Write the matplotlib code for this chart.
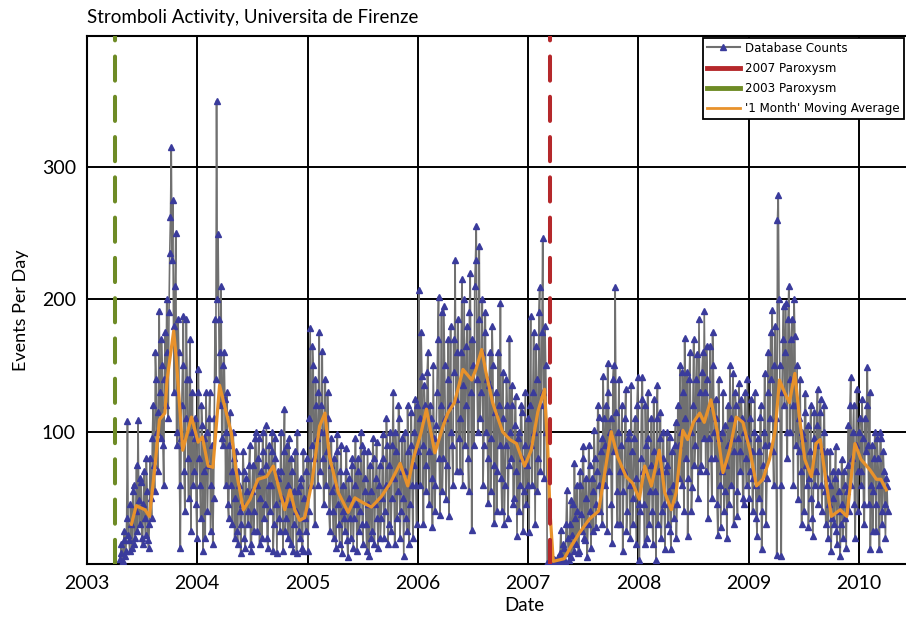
import matplotlib
matplotlib.use("Agg")
import matplotlib.pyplot as plt
from matplotlib.lines import Line2D
import pandas as pd
import datetime as dt

# ---- data ----
# counts every 5 days (a) and the samples that fall between them (b)
start_date = "2003-04-20"
a_2003 = [4, 15, 2, 25, 10, 108, 18, 45, 12, 60,
          20, 75, 109, 30, 62, 15, 70, 22, 55, 12,
          80, 35, 120, 55, 140, 70, 191, 95, 150, 60,
          175, 200, 110, 235, 315, 275, 130, 250, 90, 160,
          12, 120, 187, 40, 185, 80, 140, 25, 130, 70,
          110, 20]
b_2003 = [8, 1, 18, 6, 35, 22, 10, 30, 55, 15,
          40, 25, 48, 65, 20, 45, 35, 80, 18, 30,
          50, 95, 75, 160, 100, 115, 130, 170, 90, 140,
          120, 160, 190, 262, 230, 180, 210, 100, 185, 60,
          95, 150, 70, 110, 140, 50, 170, 100, 60, 95,
          45, 130]
a_2004 = [147, 60, 120, 10, 95, 130, 40, 110, 25, 90,
          50, 185, 350, 249, 120, 210, 90, 160, 60, 130,
          35, 115, 70, 100, 20, 85, 15, 60, 8, 45,
          70, 12, 55, 30, 90, 10, 75, 40, 100, 25,
          95, 50, 20, 85, 45, 105, 12, 90, 60, 100,
          30, 80, 8, 65, 25, 70, 10, 117, 35, 60,
          95, 15, 70, 30, 85, 8, 55, 20, 65, 10,
          50, 25, 80]
b_2004 = [80, 35, 105, 70, 20, 100, 75, 130, 60, 15,
          110, 140, 200, 185, 160, 95, 150, 125, 100, 45,
          90, 60, 30, 80, 50, 25, 70, 40, 30, 85,
          20, 65, 40, 75, 15, 55, 25, 95, 60, 80,
          15, 70, 100, 35, 75, 20, 60, 40, 85, 10,
          95, 45, 70, 35, 100, 50, 85, 25, 90, 20,
          45, 80, 10, 55, 40, 100, 25, 60, 12, 85,
          35, 70, 10]
a_2005 = [40, 178, 90, 150, 30, 120, 60, 175, 100, 161,
          45, 140, 85, 110, 25, 95, 40, 80, 12, 98,
          30, 70, 8, 60, 25, 88, 5, 50, 20, 75,
          35, 95, 10, 70, 40, 90, 15, 65, 30, 85,
          6, 55, 25, 80, 45, 92, 12, 75, 35, 98,
          20, 60, 90, 30, 100, 50, 130, 15, 85, 55,
          110, 40, 95, 6, 70, 25, 85, 45, 115, 20,
          100, 60, 120]
b_2005 = [110, 60, 165, 80, 140, 95, 130, 70, 120, 80,
          100, 60, 130, 40, 75, 55, 20, 60, 85, 45,
          15, 90, 40, 35, 70, 18, 65, 35, 80, 12,
          60, 45, 80, 25, 100, 30, 85, 55, 10, 45,
          75, 20, 95, 15, 65, 35, 60, 20, 50, 80,
          40, 110, 15, 75, 25, 90, 65, 100, 35, 120,
          20, 70, 50, 100, 35, 120, 15, 90, 60, 75,
          125, 30, 85]
a_2006 = [207, 60, 142, 30, 120, 75, 160, 45, 110, 28,
          95, 60, 130, 202, 37, 190, 80, 150, 49, 140,
          36, 180, 90, 170, 230, 70, 185, 110, 160, 60,
          200, 120, 180, 55, 220, 26, 150, 210, 255, 100,
          240, 130, 200, 90, 190, 140, 46, 160, 95, 150,
          31, 130, 70, 120, 197, 40, 110, 60, 140, 35,
          171, 80, 120, 50, 127, 21, 100, 60, 115, 25,
          90, 45, 110]
b_2006 = [110, 175, 90, 135, 55, 145, 85, 120, 65, 150,
          40, 105, 170, 80, 120, 55, 195, 110, 75, 170,
          120, 100, 60, 145, 125, 160, 95, 70, 215, 135,
          90, 165, 80, 190, 130, 170, 90, 230, 140, 185,
          110, 160, 60, 175, 100, 80, 135, 55, 180, 75,
          115, 40, 160, 90, 65, 145, 30, 90, 120, 75,
          100, 135, 45, 105, 70, 95, 40, 120, 80, 55,
          130, 75, 60]
a_2007 = [24, 187, 60, 175, 30, 140, 80, 209, 120, 246,
          65, 150, 1, 0, 0, 2, 0, 3, 0, 5,
          1, 26, 4, 12, 2, 56, 8, 30, 5, 45,
          76, 15, 40, 10, 60, 25, 89, 18, 50, 30,
          75, 12, 55, 101, 28, 70, 111, 40, 95, 142,
          60, 120, 152, 70, 110, 16, 150, 209, 55, 100,
          30, 90, 10, 70, 132, 40, 100, 20, 85, 50,
          110, 15, 141]
b_2007 = [120, 90, 130, 100, 165, 55, 190, 70, 175, 130,
          180, 100, 0, 1, 0, 0, 4, 0, 2, 0,
          8, 2, 15, 0, 30, 20, 3, 48, 22, 10,
          35, 60, 8, 70, 38, 80, 20, 65, 5, 90,
          40, 65, 25, 80, 45, 120, 60, 85, 30, 110,
          90, 25, 130, 100, 45, 140, 85, 115, 30, 140,
          70, 120, 55, 110, 25, 95, 60, 135, 30, 95,
          65, 120, 45]
a_2008 = [3, 80, 141, 45, 120, 20, 95, 55, 110, 15,
          85, 3, 135, 70, 115, 40, 100, 11, 75, 30,
          96, 11, 60, 35, 107, 45, 90, 150, 60, 130,
          171, 80, 21, 140, 100, 58, 170, 90, 159, 50,
          130, 75, 160, 191, 70, 140, 95, 165, 50, 150,
          80, 110, 22, 95, 28, 70, 40, 105, 20, 90,
          150, 60, 144, 85, 120, 36, 137, 70, 110, 45,
          130, 60, 95]
b_2008 = [40, 125, 70, 15, 90, 130, 30, 75, 40, 125,
          55, 110, 30, 95, 20, 80, 45, 70, 100, 55,
          25, 85, 45, 90, 20, 120, 65, 100, 145, 40,
          110, 145, 65, 160, 40, 120, 75, 140, 110, 185,
          70, 145, 95, 130, 165, 35, 120, 80, 175, 100,
          125, 45, 140, 60, 100, 130, 55, 75, 120, 45,
          110, 95, 30, 130, 55, 95, 85, 125, 50, 100,
          80, 140, 50]
a_2009 = [70, 125, 40, 100, 60, 21, 85, 111, 11, 75,
          144, 30, 130, 90, 175, 192, 60, 180, 7, 279,
          150, 6, 170, 120, 197, 80, 210, 100, 185, 60,
          172, 120, 49, 110, 70, 100, 40, 129, 60, 28,
          85, 50, 21, 115, 70, 132, 90, 125, 40, 100,
          55, 85, 20, 60, 10, 70, 30, 89, 15, 55,
          6, 79, 20, 60, 12, 75, 40, 141, 80, 120,
          20, 132, 70]
b_2009 = [110, 85, 65, 130, 35, 95, 50, 120, 40, 100,
          90, 65, 160, 110, 140, 85, 150, 110, 260, 200,
          60, 130, 195, 160, 100, 185, 140, 170, 120, 200,
          90, 150, 85, 140, 30, 95, 115, 75, 105, 65,
          120, 35, 95, 60, 105, 45, 115, 60, 85, 120,
          30, 65, 45, 85, 35, 50, 65, 25, 70, 40,
          30, 45, 70, 35, 55, 105, 120, 60, 100, 45,
          90, 40, 100]
a_2010 = [110, 60, 95, 30, 85, 149, 45, 11, 90, 55,
          100, 25, 80, 11, 95, 40, 70, 20, 59]
b_2010 = [70, 125, 45, 110, 120, 90, 130, 60, 25, 80,
          45, 95, 60, 100, 30, 85, 45, 65, 40]

ma_dates = ["2003-05-28", "2003-06-13", "2003-07-12", "2003-07-27", "2003-08-14", "2003-08-29",
            "2003-09-16", "2003-09-23", "2003-10-15", "2003-10-23", "2003-11-14", "2003-12-13",
            "2004-01-04", "2004-01-18", "2004-02-06", "2004-02-22", "2004-03-04", "2004-03-15",
            "2004-04-01", "2004-04-23", "2004-05-10", "2004-06-02", "2004-06-24", "2004-07-20",
            "2004-08-18", "2004-09-09", "2004-10-01", "2004-10-17", "2004-11-03", "2004-11-19",
            "2004-12-05", "2004-12-22", "2005-01-15", "2005-02-09", "2005-02-27", "2005-03-14",
            "2005-04-12", "2005-05-15", "2005-06-06", "2005-07-05", "2005-07-31", "2005-09-02",
            "2005-10-01", "2005-11-03", "2005-11-28", "2005-12-16", "2006-01-11", "2006-01-29",
            "2006-02-26", "2006-03-25", "2006-04-10", "2006-05-02", "2006-05-30", "2006-06-28",
            "2006-07-12", "2006-07-31", "2006-08-14", "2006-09-05", "2006-10-08", "2006-11-01",
            "2006-11-23", "2006-12-20", "2007-01-11", "2007-02-02", "2007-02-24", "2007-03-07",
            "2007-03-14", "2007-03-25", "2007-04-30", "2007-05-22", "2007-06-21", "2007-07-23",
            "2007-08-22", "2007-09-13", "2007-10-03", "2007-10-24", "2007-11-21", "2007-12-13",
            "2008-01-04", "2008-01-22", "2008-02-13", "2008-03-10", "2008-03-28", "2008-04-19",
            "2008-05-05", "2008-05-27", "2008-06-12", "2008-07-01", "2008-07-22", "2008-08-06",
            "2008-08-28", "2008-09-19", "2008-10-07", "2008-10-29", "2008-11-20", "2008-12-12",
            "2009-01-04", "2009-01-26", "2009-02-16", "2009-03-10", "2009-03-29", "2009-04-12",
            "2009-04-30", "2009-05-15", "2009-06-02", "2009-06-17", "2009-07-05", "2009-07-27",
            "2009-08-11", "2009-08-25", "2009-09-14", "2009-10-01", "2009-10-30", "2009-11-21",
            "2009-12-05", "2009-12-18", "2010-01-07", "2010-02-06", "2010-02-27", "2010-03-14",
            "2010-04-01"]
ma_values = [30, 44, 41, 36, 74, 109, 114, 139, 176, 157, 86, 111,
             92, 96, 74, 73, 104, 135, 119, 99, 69, 41, 49, 64,
             66, 74, 54, 41, 56, 41, 33, 35, 62, 104, 114, 81,
             54, 39, 50, 46, 43, 51, 61, 76, 59, 79, 99, 117,
             84, 104, 114, 122, 147, 139, 147, 162, 145, 122, 100, 94,
             91, 74, 86, 115, 132, 86, 40, 2, 4, 13, 24, 34,
             40, 71, 100, 81, 66, 61, 49, 74, 59, 86, 54, 41,
             54, 101, 94, 107, 114, 107, 124, 99, 69, 86, 111, 107,
             86, 59, 64, 79, 101, 139, 129, 122, 144, 111, 79, 66,
             91, 94, 61, 36, 41, 36, 64, 91, 79, 71, 64, 64,
             56]

paroxysm_2003 = "2003-04-05"
paroxysm_2007 = "2007-03-15"
year_ticks = [2003, 2004, 2005, 2006, 2007, 2008, 2009, 2010]
y_ticks = [100, 200, 300]

blocks = [(a_2003, b_2003), (a_2004, b_2004), (a_2005, b_2005), (a_2006, b_2006),
          (a_2007, b_2007), (a_2008, b_2008), (a_2009, b_2009), (a_2010, b_2010)]
counts = []
for a_vals, b_vals in blocks:
    for va, vb in zip(a_vals, b_vals):
        counts.extend([va, vb])
dates = pd.date_range(start_date, periods=len(counts), freq="60h")
ma_dt = pd.to_datetime(ma_dates)

# ---- figure ----
W, H = 906, 617
fig = plt.figure(figsize=(W / 100, H / 100), dpi=100)
ax_left, ax_right, ax_top, ax_bot = 87, 910, 36, 564
ax = fig.add_axes([ax_left / W, 1 - ax_bot / H, (ax_right - ax_left) / W, (ax_bot - ax_top) / H])

font = "Lato"
gray = "#707070"
blue = "#3a3b9c"
orange = "#e8922b"
red = "#b5282b"
green = "#6e8b25"

ax.plot(dates, counts, color=gray, lw=1.2, marker="^", ms=4.2,
        mfc=blue, mec=blue, zorder=3)
ax.plot(ma_dt, ma_values, color=orange, lw=2.3, zorder=4)

ax.axvline(pd.Timestamp(paroxysm_2007), color=red, lw=2.9,
           linestyle=(0, (6, 4)), dash_capstyle="round", zorder=5)
ax.axvline(pd.Timestamp(paroxysm_2003), color=green, lw=2.9,
           linestyle=(0, (6, 4)), dash_capstyle="round", zorder=5)

px_per_year = 110.3
span_years = (ax_right - ax_left) / px_per_year
x0 = dt.datetime(2003, 1, 1)
x1 = x0 + dt.timedelta(days=span_years * 365.25)
ax.set_xlim(x0, x1)
ax.set_ylim(0, (564.5 - ax_top) / 1.325)

ax.set_xticks([dt.datetime(y, 1, 1) for y in year_ticks])
ax.set_xticklabels([str(y) for y in year_ticks])
ax.set_yticks(y_ticks)
ax.set_yticklabels([str(v) for v in y_ticks])
ax.tick_params(length=0, labelsize=14, pad=8)
for lab in ax.get_xticklabels() + ax.get_yticklabels():
    lab.set_fontfamily(font)

ax.grid(True, color="black", lw=1.4, zorder=1)
ax.set_axisbelow(True)
for s in ax.spines.values():
    s.set_linewidth(1.5)
    s.set_color("black")

ax.set_xlabel("Date", fontsize=13.5, fontfamily=font)
ax.set_ylabel("Events Per Day", fontsize=13, fontfamily=font)
ax.xaxis.set_label_coords((524 - ax_left) / (ax_right - ax_left), -(597 - ax_bot) / (ax_bot - ax_top))
ax.yaxis.set_label_coords(-(87 - 29) / (ax_right - ax_left), (ax_bot - 310) / (ax_bot - ax_top))

fig.text(87 / W, 1 - 18 / H, "Stromboli Activity, Universita de Firenze",
         fontsize=13.5, fontfamily=font, ha="left", va="center")

handles = [
    Line2D([], [], color=gray, lw=1.5, marker="^", ms=4, mfc=blue, mec=blue),
    Line2D([], [], color=red, lw=3.5),
    Line2D([], [], color=green, lw=3.5),
    Line2D([], [], color=orange, lw=2),
]
labels = ["Database Counts", "2007 Paroxysm", "2003 Paroxysm", "'1 Month' Moving Average"]
leg = ax.legend(handles, labels, loc="upper left",
                bbox_to_anchor=((703 - ax_left) / (ax_right - ax_left), (ax_bot - 38) / (ax_bot - ax_top)),
                borderaxespad=0, fancybox=False, framealpha=1, edgecolor="black",
                prop={"family": "DejaVu Sans", "size": 8.6}, numpoints=1,
                handlelength=2.8, labelspacing=0.6, handletextpad=0.45, borderpad=0.3)
leg.get_frame().set_linewidth(1.3)
leg.set_zorder(10)

fig.savefig("out.png", dpi=100)
